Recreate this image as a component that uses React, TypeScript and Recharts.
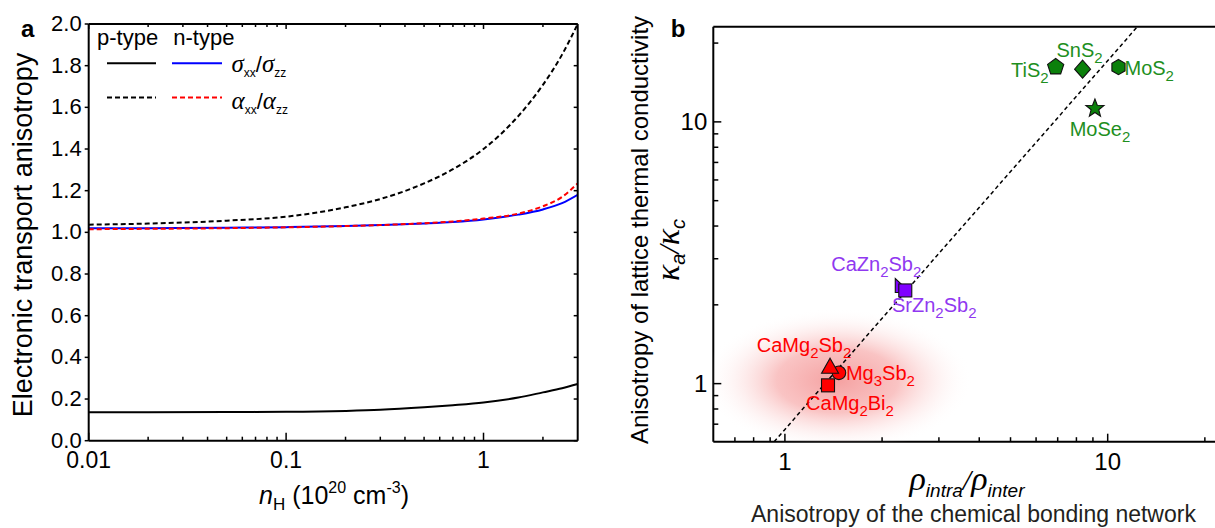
import React from "react";
import { ComposedChart, Line, LineChart, Scatter, XAxis, YAxis } from "recharts";

const SANS = '"Liberation Sans", Arial, Helvetica, sans-serif';
const SERIF = '"Liberation Serif", "Times New Roman", serif';

// panel a: electronic transport anisotropy vs Hall concentration (1e20 cm^-3)
const N_H = [0.01, 0.02, 0.05, 0.1, 0.2, 0.3, 0.5, 0.7, 1, 1.5, 2, 2.5, 3];
const P_SIGMA = [0.137, 0.137, 0.138, 0.139, 0.143, 0.148, 0.16, 0.17, 0.183, 0.207, 0.232, 0.252, 0.272];
const P_ALPHA = [1.037, 1.042, 1.056, 1.075, 1.12, 1.16, 1.235, 1.303, 1.4, 1.558, 1.708, 1.853, 2.0];
const N_SIGMA = [1.02, 1.02, 1.022, 1.025, 1.03, 1.035, 1.043, 1.05, 1.062, 1.085, 1.11, 1.14, 1.18];
const N_ALPHA = [1.015, 1.017, 1.02, 1.024, 1.03, 1.035, 1.044, 1.052, 1.066, 1.09, 1.125, 1.17, 1.235];

const A_X_MAJOR = [0.01, 0.1, 1];
const A_X_MINOR = [0.02, 0.03, 0.04, 0.05, 0.06, 0.07, 0.08, 0.09, 0.2, 0.3, 0.4, 0.5, 0.6, 0.7, 0.8, 0.9, 2];
const A_Y_TICKS = [0, 0.2, 0.4, 0.6, 0.8, 1.0, 1.2, 1.4, 1.6, 1.8, 2.0];

// panel b: lattice thermal conductivity anisotropy vs bonding anisotropy
const COMPOUNDS = ["TiS2", "SnS2", "MoS2", "MoSe2", "CaZn2Sb2", "SrZn2Sb2", "Mg3Sb2", "CaMg2Sb2", "CaMg2Bi2"];
const BOND_ANISO = [6.9, 8.36, 10.8, 9.13, 2.31, 2.36, 1.47, 1.38, 1.36];
const KAPPA_ANISO = [16.2, 15.9, 16.2, 11.25, 2.37, 2.27, 1.1, 1.15, 0.985];
const FIT_X = [0.926, 12.36];
const FIT_Y = [0.6, 23.1];
const GLOW_AT = { x: 1.454, y: 1.03 };

const B_MAJOR = [1, 10];
const B_MINOR = [0.7, 0.8, 0.9, 2, 3, 4, 5, 6, 7, 8, 9, 20];

const GREEN = { fill: "#0b800b", text: "#1e8f1e" };
const PURPLE = { fill: "#7f00ff", text: "#9038f0" };
const RED = { fill: "#ff0000", text: "#ff0000" };

// marker kind + label placement relative to the marker (px)
const MARK: Record<string, { kind: string; c: { fill: string; text: string }; dx: number; dy: number; anchor: string }> = {
  TiS2: { kind: "pentagon", c: GREEN, dx: -7, dy: 10, anchor: "end" },
  SnS2: { kind: "diamond", c: GREEN, dx: -3, dy: -12, anchor: "middle" },
  MoS2: { kind: "hexagon", c: GREEN, dx: 6, dy: 8, anchor: "start" },
  MoSe2: { kind: "star", c: GREEN, dx: 5, dy: 28, anchor: "middle" },
  CaZn2Sb2: { kind: "rtri", c: PURPLE, dx: -26, dy: -15, anchor: "middle" },
  SrZn2Sb2: { kind: "square", c: PURPLE, dx: 29, dy: 22, anchor: "middle" },
  Mg3Sb2: { kind: "circle", c: RED, dx: 7, dy: 7, anchor: "start" },
  CaMg2Sb2: { kind: "triangle", c: RED, dx: -26, dy: -16, anchor: "middle" },
  CaMg2Bi2: { kind: "square", c: RED, dx: 22, dy: 25, anchor: "middle" },
};

const AXIS = { stroke: "#000", strokeWidth: 2 };

function poly(cx: number, cy: number, pts: number[][]) {
  return pts.map(([x, y]) => `${(cx + x).toFixed(2)},${(cy + y).toFixed(2)}`).join(" ");
}

function regular(n: number, r: number) {
  return Array.from({ length: n }, (_, k) => {
    const a = (-90 + (360 / n) * k) * (Math.PI / 180);
    return [r * Math.cos(a), r * Math.sin(a)];
  });
}

function starPts(ro: number, ri: number) {
  return Array.from({ length: 10 }, (_, k) => {
    const r = k % 2 === 0 ? ro : ri;
    const a = (-90 + 36 * k) * (Math.PI / 180);
    return [r * Math.cos(a), r * Math.sin(a)];
  });
}

function Marker({ kind, cx, cy, fill }: { kind: string; cx: number; cy: number; fill: string }) {
  const common = { fill, stroke: "#111", strokeWidth: 1.1 };
  if (kind === "circle") return <circle cx={cx} cy={cy} r={6.8} {...common} />;
  if (kind === "square") return <rect x={cx - 6.5} y={cy - 6.5} width={13} height={13} {...common} />;
  let pts: number[][] = [];
  if (kind === "pentagon") pts = regular(5, 8.5);
  if (kind === "hexagon") pts = regular(6, 7.6);
  if (kind === "diamond") pts = [[0, -9], [8, 0], [0, 9], [-8, 0]];
  if (kind === "star") pts = starPts(9.5, 4);
  if (kind === "triangle") pts = [[0, -9.5], [8.5, 5.5], [-8.5, 5.5]];
  if (kind === "rtri") pts = [[-7, -7], [-7, 7], [8, 7]];
  return <polygon points={poly(cx, cy, pts)} {...common} />;
}

function formula(name: string, size: number) {
  const parts = name.match(/[A-Za-z]+|\d+/g) ?? [];
  let low = false;
  return parts.map((p, i) => {
    const num = /\d/.test(p);
    const dy = num ? (low ? 0 : 6) : low ? -6 : 0;
    low = num;
    return (
      <tspan key={i} dy={dy} fontSize={num ? size * 0.75 : size}>
        {p}
      </tspan>
    );
  });
}

const compoundShape = (props: any) => {
  const { cx, cy, payload } = props;
  const m = MARK[payload.name];
  return (
    <g>
      <Marker kind={m.kind} cx={cx} cy={cy} fill={m.c.fill} />
      <text x={cx + m.dx} y={cy + m.dy} textAnchor={m.anchor} fontFamily={SANS} fill={m.c.text}>
        {formula(payload.name, 20)}
      </text>
    </g>
  );
};

const glowShape = (props: any) => {
  const { cx, cy } = props;
  return (
    <g>
      <defs>
        <radialGradient id="redGlow">
          <stop offset="0%" stopColor="#f07c7c" stopOpacity={0.72} />
          <stop offset="45%" stopColor="#f48888" stopOpacity={0.5} />
          <stop offset="100%" stopColor="#ffffff" stopOpacity={0} />
        </radialGradient>
      </defs>
      <ellipse cx={cx} cy={cy} rx={135} ry={72} fill="url(#redGlow)" />
    </g>
  );
};

const emptyShape = () => <g />;

// ticks: axes use tickSize 0 / tickMargin 0 so x,y sit on the axis line
function bottomTick(majors: number[], major: number, minor: number, dy: number, size: number) {
  return (props: any) => {
    const { x, y, payload } = props;
    const isMajor = majors.includes(payload.value);
    return (
      <g>
        <line x1={x} x2={x} y1={y} y2={y - (isMajor ? major : minor)} stroke="#000" strokeWidth={1.5} />
        {isMajor && (
          <text x={x} y={y + dy} textAnchor="middle" fontFamily={SANS} fontSize={size} fill="#000">
            {String(payload.value)}
          </text>
        )}
      </g>
    );
  };
}

function topTick(majors: number[], major: number, minor: number) {
  return (props: any) => {
    const { x, y, payload } = props;
    const isMajor = majors.includes(payload.value);
    return <line x1={x} x2={x} y1={y} y2={y + (isMajor ? major : minor)} stroke="#000" strokeWidth={1.5} />;
  };
}

const leftTickA = (props: any) => {
  const { x, y, payload } = props;
  return (
    <g>
      <line x1={x - 4} x2={x} y1={y} y2={y} stroke="#000" strokeWidth={1.5} />
      <text x={x - 7} y={y + 7} textAnchor="end" fontFamily={SANS} fontSize={22} fill="#000">
        {payload.value.toFixed(1)}
      </text>
    </g>
  );
};

const rightTickA = (props: any) => {
  const { x, y } = props;
  return <line x1={x - 4} x2={x} y1={y} y2={y} stroke="#000" strokeWidth={1.5} />;
};

const leftTickB = (props: any) => {
  const { x, y, payload } = props;
  const isMajor = B_MAJOR.includes(payload.value);
  return (
    <g>
      <line x1={x} x2={x + (isMajor ? 8 : 5)} y1={y} y2={y} stroke="#000" strokeWidth={1.5} />
      {isMajor && (
        <text x={x - 6} y={y + 8.5} textAnchor="end" fontFamily={SANS} fontSize={24} fill="#000">
          {String(payload.value)}
        </text>
      )}
    </g>
  );
};

function PanelA() {
  const rows = N_H.map((x, i) => ({ x, pSigma: P_SIGMA[i], pAlpha: P_ALPHA[i], nSigma: N_SIGMA[i], nAlpha: N_ALPHA[i] }));
  const xTicks = [...A_X_MAJOR, ...A_X_MINOR].sort((a, b) => a - b);
  return (
    <LineChart width={600} height={528} data={rows} margin={{ top: 23, right: 21.3, bottom: 0, left: 0 }}>
      <XAxis
        dataKey="x"
        type="number"
        scale="log"
        domain={[0.01, 3]}
        allowDataOverflow
        ticks={xTicks}
        interval={0}
        tickSize={0}
        tickMargin={0}
        height={87.3}
        axisLine={AXIS}
        tick={bottomTick(A_X_MAJOR, 8, 4, 27.5, 23)}
      />
      <XAxis
        xAxisId="top"
        orientation="top"
        dataKey="x"
        type="number"
        scale="log"
        domain={[0.01, 3]}
        allowDataOverflow
        ticks={xTicks}
        interval={0}
        tickSize={0}
        tickMargin={0}
        height={1}
        axisLine={AXIS}
        tick={topTick(A_X_MAJOR, 5, 3)}
      />
      <YAxis
        type="number"
        domain={[0, 2]}
        allowDataOverflow
        ticks={A_Y_TICKS}
        interval={0}
        width={88.7}
        tickSize={0}
        tickMargin={0}
        axisLine={AXIS}
        tick={leftTickA}
      />
      <YAxis
        yAxisId="right"
        orientation="right"
        type="number"
        domain={[0, 2]}
        allowDataOverflow
        ticks={A_Y_TICKS}
        interval={0}
        width={1}
        tickSize={0}
        tickMargin={0}
        axisLine={AXIS}
        tick={rightTickA}
      />
      <Line dataKey="nSigma" type="monotone" stroke="#0000ff" strokeWidth={2} dot={false} isAnimationActive={false} />
      <Line dataKey="nAlpha" type="monotone" stroke="#ff0000" strokeWidth={2} strokeDasharray="5 3" dot={false} isAnimationActive={false} />
      <Line dataKey="pAlpha" type="monotone" stroke="#000" strokeWidth={2} strokeDasharray="5 3" dot={false} isAnimationActive={false} />
      <Line dataKey="pSigma" type="monotone" stroke="#000" strokeWidth={2} dot={false} isAnimationActive={false} />
    </LineChart>
  );
}

function PanelB() {
  const points = COMPOUNDS.map((name, i) => ({ name, x: BOND_ANISO[i], y: KAPPA_ANISO[i] }));
  const fit = FIT_X.map((x, i) => ({ x, y: FIT_Y[i] }));
  const ticks = [...B_MAJOR, ...B_MINOR].sort((a, b) => a - b);
  return (
    <ComposedChart width={575} height={528} margin={{ top: 25.7, right: 0, bottom: 0, left: 0 }}>
      <XAxis
        dataKey="x"
        type="number"
        scale="log"
        domain={[0.6, 21.5]}
        allowDataOverflow
        ticks={ticks}
        interval={0}
        tickSize={0}
        tickMargin={0}
        height={86.3}
        axisLine={AXIS}
        tick={bottomTick(B_MAJOR, 8, 4.5, 28.3, 24)}
      />
      <XAxis
        xAxisId="top"
        orientation="top"
        dataKey="x"
        type="number"
        scale="log"
        domain={[0.6, 21.5]}
        allowDataOverflow
        height={1}
        tick={false}
        tickLine={false}
        axisLine={AXIS}
      />
      <YAxis
        dataKey="y"
        type="number"
        scale="log"
        domain={[0.6, 23.1]}
        allowDataOverflow
        ticks={ticks}
        interval={0}
        width={73.3}
        tickSize={0}
        tickMargin={0}
        axisLine={AXIS}
        tick={leftTickB}
      />
      <Scatter data={[GLOW_AT]} shape={glowShape} isAnimationActive={false} />
      <Scatter
        data={fit}
        shape={emptyShape}
        line={{ stroke: "#000", strokeWidth: 1.5, strokeDasharray: "4 3" }}
        isAnimationActive={false}
      />
      <Scatter data={points} shape={compoundShape} isAnimationActive={false} />
    </ComposedChart>
  );
}

function Overlay() {
  const it = { fontFamily: SERIF, fontStyle: "italic" as const };
  return (
    <svg width={1215} height={528} style={{ position: "absolute", left: 0, top: 0, pointerEvents: "none" }} fontFamily={SANS}>
      {/* panel a */}
      <text x={21} y={37} fontSize={24} fontWeight="bold">a</text>
      <text transform="translate(31.7,235) rotate(-90)" textAnchor="middle" fontSize={27}>
        Electronic transport anisotropy
      </text>
      <text x={334} y={504} textAnchor="middle" fontSize={25}>
        <tspan fontStyle="italic">n</tspan>
        <tspan fontSize={17} dy={6}>H</tspan>
        <tspan dy={-6}>{" (10"}</tspan>
        <tspan fontSize={16} dy={-11}>20</tspan>
        <tspan dy={11}>{" cm"}</tspan>
        <tspan fontSize={16} dy={-11}>-3</tspan>
        <tspan dy={11}>)</tspan>
      </text>
      <text x={97} y={45} fontSize={22}>p-type</text>
      <text x={173.3} y={45} fontSize={22}>n-type</text>
      <line x1={107} x2={156} y1={63.3} y2={63.3} stroke="#000" strokeWidth={2} />
      <line x1={172} x2={222} y1={63.3} y2={63.3} stroke="#0000ff" strokeWidth={2} />
      <line x1={107} x2={156} y1={97.5} y2={97.5} stroke="#000" strokeWidth={2} strokeDasharray="5 3" />
      <line x1={172} x2={222} y1={97.5} y2={97.5} stroke="#ff0000" strokeWidth={2} strokeDasharray="5 3" />
      <text x={231.5} y={72} fontSize={22}>
        <tspan {...it} fontSize={25}>σ</tspan>
        <tspan fontSize={12} dy={5}>xx</tspan>
        <tspan dy={-5}>/</tspan>
        <tspan {...it} fontSize={25}>σ</tspan>
        <tspan fontSize={12} dy={5}>zz</tspan>
      </text>
      <text x={231.5} y={109} fontSize={22}>
        <tspan {...it} fontSize={25}>α</tspan>
        <tspan fontSize={12} dy={5}>xx</tspan>
        <tspan dy={-5}>/</tspan>
        <tspan {...it} fontSize={25}>α</tspan>
        <tspan fontSize={12} dy={5}>zz</tspan>
      </text>

      {/* panel b */}
      <text x={670.7} y={37} fontSize={24} fontWeight="bold">b</text>
      <text transform="translate(648,230) rotate(-90)" textAnchor="middle" fontSize={24}>
        Anisotropy of lattice thermal conductivity
      </text>
      <text transform="translate(679,250) rotate(-90)" textAnchor="middle">
        <tspan {...it} fontSize={34}>κ</tspan>
        <tspan fontStyle="italic" fontSize={20} dy={6}>a</tspan>
        <tspan {...it} fontSize={30} dy={-6}>/</tspan>
        <tspan {...it} fontSize={34}>κ</tspan>
        <tspan fontStyle="italic" fontSize={20} dy={6}>c</tspan>
      </text>
      <text x={967} y={490} textAnchor="middle">
        <tspan {...it} fontSize={34}>ρ</tspan>
        <tspan fontStyle="italic" fontSize={19} dy={7}>intra</tspan>
        <tspan {...it} fontSize={30} dy={-7}>/</tspan>
        <tspan {...it} fontSize={34}>ρ</tspan>
        <tspan fontStyle="italic" fontSize={19} dy={7}>inter</tspan>
      </text>
      <text x={751} y={522} fontSize={23} fill="#231f20">
        Anisotropy of the chemical bonding network
      </text>
    </svg>
  );
}

export default function App() {
  return (
    <div style={{ position: "absolute", left: 0, top: 0, width: 1215, height: 528, background: "#fff", overflow: "hidden" }}>
      <div style={{ position: "absolute", left: 0, top: 0 }}>
        <PanelA />
      </div>
      <div style={{ position: "absolute", left: 640, top: 0 }}>
        <PanelB />
      </div>
      <Overlay />
    </div>
  );
}
